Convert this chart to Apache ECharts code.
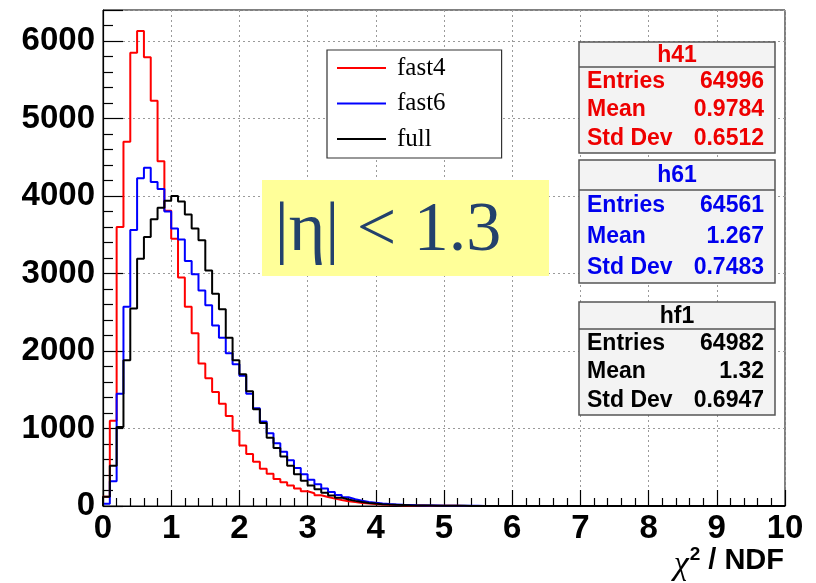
<!DOCTYPE html>
<html>
<head>
<meta charset="utf-8">
<script src="https://cdn.jsdelivr.net/npm/echarts@6/dist/echarts.min.js"></script>
<style>
  html, body { margin: 0; padding: 0; background: #ffffff; }
  #chart { width: 816px; height: 583px; }
</style>
</head>
<body>
<div id="chart"></div>
<script>
// Histogram binning: 100 bins of width 0.1 over chi2/NDF in [0, 10]
const BIN_WIDTH = 0.1;
const X_MIN = 0;
const X_MAX = 10;

// Bin contents, one value per bin starting at x = 0
const fast4 = [
  120, 1100, 3600, 4700, 5850, 6130, 5790, 5230, 4450, 3810,
  3450, 2950, 2570, 2230, 1840, 1650, 1470, 1320, 1160, 970,
  780, 670, 570, 480, 415, 350, 305, 265, 225, 190,
  165, 138, 115, 95, 78, 62, 50, 40, 32, 26,
  20, 16, 13, 10, 8, 6, 5, 4, 3, 3,
  2, 2, 1, 1, 1, 1, 1, 0, 1, 0,
  0, 0, 1, 0, 0, 0, 0, 0, 0, 0,
  0, 0, 0, 0, 0, 0, 0, 0, 0, 0,
  0, 0, 0, 0, 0, 0, 0, 0, 0, 0,
  0, 0, 0, 0, 0, 0, 0, 0, 0, 0
];
const fast6 = [
  30, 320, 1450, 2570, 3560, 4230, 4365, 4180, 4090, 3800,
  3580, 3440, 3160, 2990, 2780, 2590, 2330, 2170, 1970, 1830,
  1680, 1450, 1260, 1090, 940, 810, 700, 590, 490, 410,
  340, 280, 225, 180, 142, 112, 88, 68, 53, 41,
  32, 25, 20, 15, 12, 9, 7, 6, 5, 4,
  3, 3, 2, 2, 2, 1, 1, 1, 1, 1,
  1, 0, 1, 0, 0, 1, 0, 0, 0, 0,
  0, 0, 0, 0, 1, 0, 0, 0, 0, 0,
  0, 0, 0, 0, 0, 0, 0, 0, 0, 0,
  0, 0, 0, 0, 0, 0, 0, 0, 0, 0
];
const full = [
  120, 520, 1020, 1880, 2550, 3190, 3470, 3700, 3850, 3940,
  4000, 3930, 3760, 3580, 3430, 3040, 2740, 2540, 2170, 1880,
  1700, 1480, 1250, 1070, 880, 750, 640, 520, 410, 325,
  265, 215, 172, 136, 108, 85, 66, 51, 40, 31,
  24, 19, 15, 12, 9, 7, 6, 5, 4, 3,
  2, 2, 2, 1, 1, 1, 1, 0, 1, 0,
  0, 0, 0, 1, 0, 0, 0, 0, 0, 0,
  0, 0, 0, 0, 0, 0, 0, 0, 0, 0,
  0, 0, 0, 0, 0, 0, 0, 0, 0, 0,
  0, 0, 0, 0, 0, 0, 0, 0, 0, 0
];

const seriesNames = ['fast4', 'fast6', 'full'];
const seriesColors = ['#ff0000', '#0000ff', '#000000'];

// Statistics boxes
const statTitles = ['h41', 'h61', 'hf1'];
const statLabels = ['Entries', 'Mean', 'Std Dev'];
const statEntries = ['64996', '64561', '64982'];
const statMeans = ['0.9784', '1.267', '1.32'];
const statStdDevs = ['0.6512', '0.7483', '0.6947'];
const statColors = ['#ee0000', '#0000ee', '#000000'];

const cutLabel = '|\u03b7| < 1.3';

const SANS = "'Liberation Sans', Arial, Helvetica, sans-serif";
const SERIF = "'Liberation Serif', 'Times New Roman', serif";

// Turn bin contents into step-line points at bin lower edges, closed at X_MAX
function toSteps(counts) {
  const pts = [[X_MIN, 0]];
  counts.forEach((v, i) => pts.push([+(X_MIN + i * BIN_WIDTH).toFixed(2), v]));
  pts.push([X_MAX, counts[counts.length - 1]]);
  return pts;
}

const histograms = [fast4, fast6, full];

const chart = echarts.init(document.getElementById('chart'), null, { renderer: 'canvas' });

// Stat box geometry (page pixels)
const boxX = 579, boxW = 196;
const boxLayout = [
  { top: 42, titleBottom: 67, bottom: 153 },
  { top: 160, titleBottom: 190, bottom: 283 },
  { top: 302, titleBottom: 329, bottom: 415 }
];

const graphics = [];

// Highlighted pseudorapidity selection
graphics.push({
  type: 'rect', z: 10,
  shape: { x: 262, y: 180, width: 287, height: 96 },
  style: { fill: '#ffff99' }
});
graphics.push({
  type: 'text', z: 11,
  style: {
    text: cutLabel, x: 388, y: 232,
    fill: '#23416c', fontSize: 70, fontFamily: SERIF,
    align: 'center', verticalAlign: 'middle'
  }
});

statTitles.forEach((title, k) => {
  const L = boxLayout[k];
  const col = statColors[k];
  graphics.push({
    type: 'rect', z: 10,
    shape: { x: boxX, y: L.top, width: boxW, height: L.bottom - L.top },
    style: { fill: '#f3f3f3', stroke: '#555', lineWidth: 1.5 }
  });
  graphics.push({
    type: 'line', z: 11,
    shape: { x1: boxX, y1: L.titleBottom, x2: boxX + boxW, y2: L.titleBottom },
    style: { stroke: '#555', lineWidth: 1.5 }
  });
  graphics.push({
    type: 'text', z: 12,
    style: {
      text: title, x: boxX + boxW / 2, y: (L.top + L.titleBottom) / 2 + 1,
      fill: col, fontSize: 23, fontWeight: 'bold', fontFamily: SANS,
      align: 'center', verticalAlign: 'middle'
    }
  });
  const vals = [statEntries[k], statMeans[k], statStdDevs[k]];
  const rowH = (L.bottom - L.titleBottom) / 3;
  statLabels.forEach((lab, r) => {
    const y = L.titleBottom + rowH * (r + 0.5);
    graphics.push({
      type: 'text', z: 12,
      style: {
        text: lab, x: boxX + 8, y: y,
        fill: col, fontSize: 23, fontWeight: 'bold', fontFamily: SANS,
        align: 'left', verticalAlign: 'middle'
      }
    });
    graphics.push({
      type: 'text', z: 12,
      style: {
        text: vals[r], x: boxX + boxW - 11, y: y,
        fill: col, fontSize: 23, fontWeight: 'bold', fontFamily: SANS,
        align: 'right', verticalAlign: 'middle'
      }
    });
  });
});

// x-axis title
graphics.push({
  type: 'text', z: 12,
  style: {
    text: '{chi|\u03c7}{sup|2}{t| / NDF}',
    x: 784, y: 561, align: 'right', verticalAlign: 'middle',
    rich: {
      chi: { fontSize: 34, fontFamily: SERIF, fill: '#000', fontStyle: 'italic', padding: [8, 0, 0, 0] },
      sup: { fontSize: 19, fontFamily: SANS, fontWeight: 'bold', fill: '#000', padding: [0, 0, 12, 1] },
      t: { fontSize: 29, fontFamily: SANS, fontWeight: 'bold', fill: '#000' }
    }
  }
});

const option = {
  animation: false,
  backgroundColor: '#ffffff',
  grid: {
    left: 103, right: 31, top: 10, bottom: 77,
    show: true, borderColor: '#000', borderWidth: 1, backgroundColor: 'transparent'
  },
  legend: {
    orient: 'vertical', left: 327, top: 50,
    padding: [5, 56, 6, 10], itemGap: 9.5,
    itemWidth: 49, itemHeight: 2,
    icon: 'rect',
    backgroundColor: '#ffffff', borderColor: '#333', borderWidth: 1.2,
    textStyle: { fontFamily: SERIF, fontSize: 25, color: '#000', lineHeight: 26, padding: [0, 0, 0, 6] },
    data: seriesNames
  },
  xAxis: {
    type: 'value', min: X_MIN, max: X_MAX, interval: 1,
    axisLine: { lineStyle: { color: '#000', width: 1.2 } },
    axisTick: { inside: true, length: 16, lineStyle: { color: '#000', width: 1.2 } },
    minorTick: { show: true, splitNumber: 5, length: 8, lineStyle: { color: '#000', width: 1.2 } },
    splitLine: { show: true, lineStyle: { color: '#9a9a9a', width: 1, type: [2, 3] } },
    axisLabel: { color: '#000', fontFamily: SANS, fontWeight: 'bold', fontSize: 33, margin: 6 }
  },
  yAxis: {
    type: 'value', min: 0, max: 6400, interval: 1000,
    axisLine: { show: true, lineStyle: { color: '#000', width: 1.2 } },
    axisTick: { inside: true, length: 20, lineStyle: { color: '#000', width: 1.2 } },
    minorTick: { show: true, splitNumber: 5, length: 10, lineStyle: { color: '#000', width: 1.2 } },
    splitLine: { show: true, lineStyle: { color: '#9a9a9a', width: 1, type: [2, 3] } },
    axisLabel: {
      color: '#000', fontFamily: SANS, fontWeight: 'bold', fontSize: 33, margin: 8,
      showMaxLabel: false, formatter: (v) => String(v)
    }
  },
  graphic: graphics,
  series: histograms.map((h, k) => ({
    name: seriesNames[k],
    type: 'line',
    step: 'end',
    symbol: 'none',
    data: toSteps(h),
    lineStyle: { color: seriesColors[k], width: 2 },
    itemStyle: { color: seriesColors[k] },
    z: 2 + k
  }))
};

chart.setOption(option);
</script>
</body>
</html>
